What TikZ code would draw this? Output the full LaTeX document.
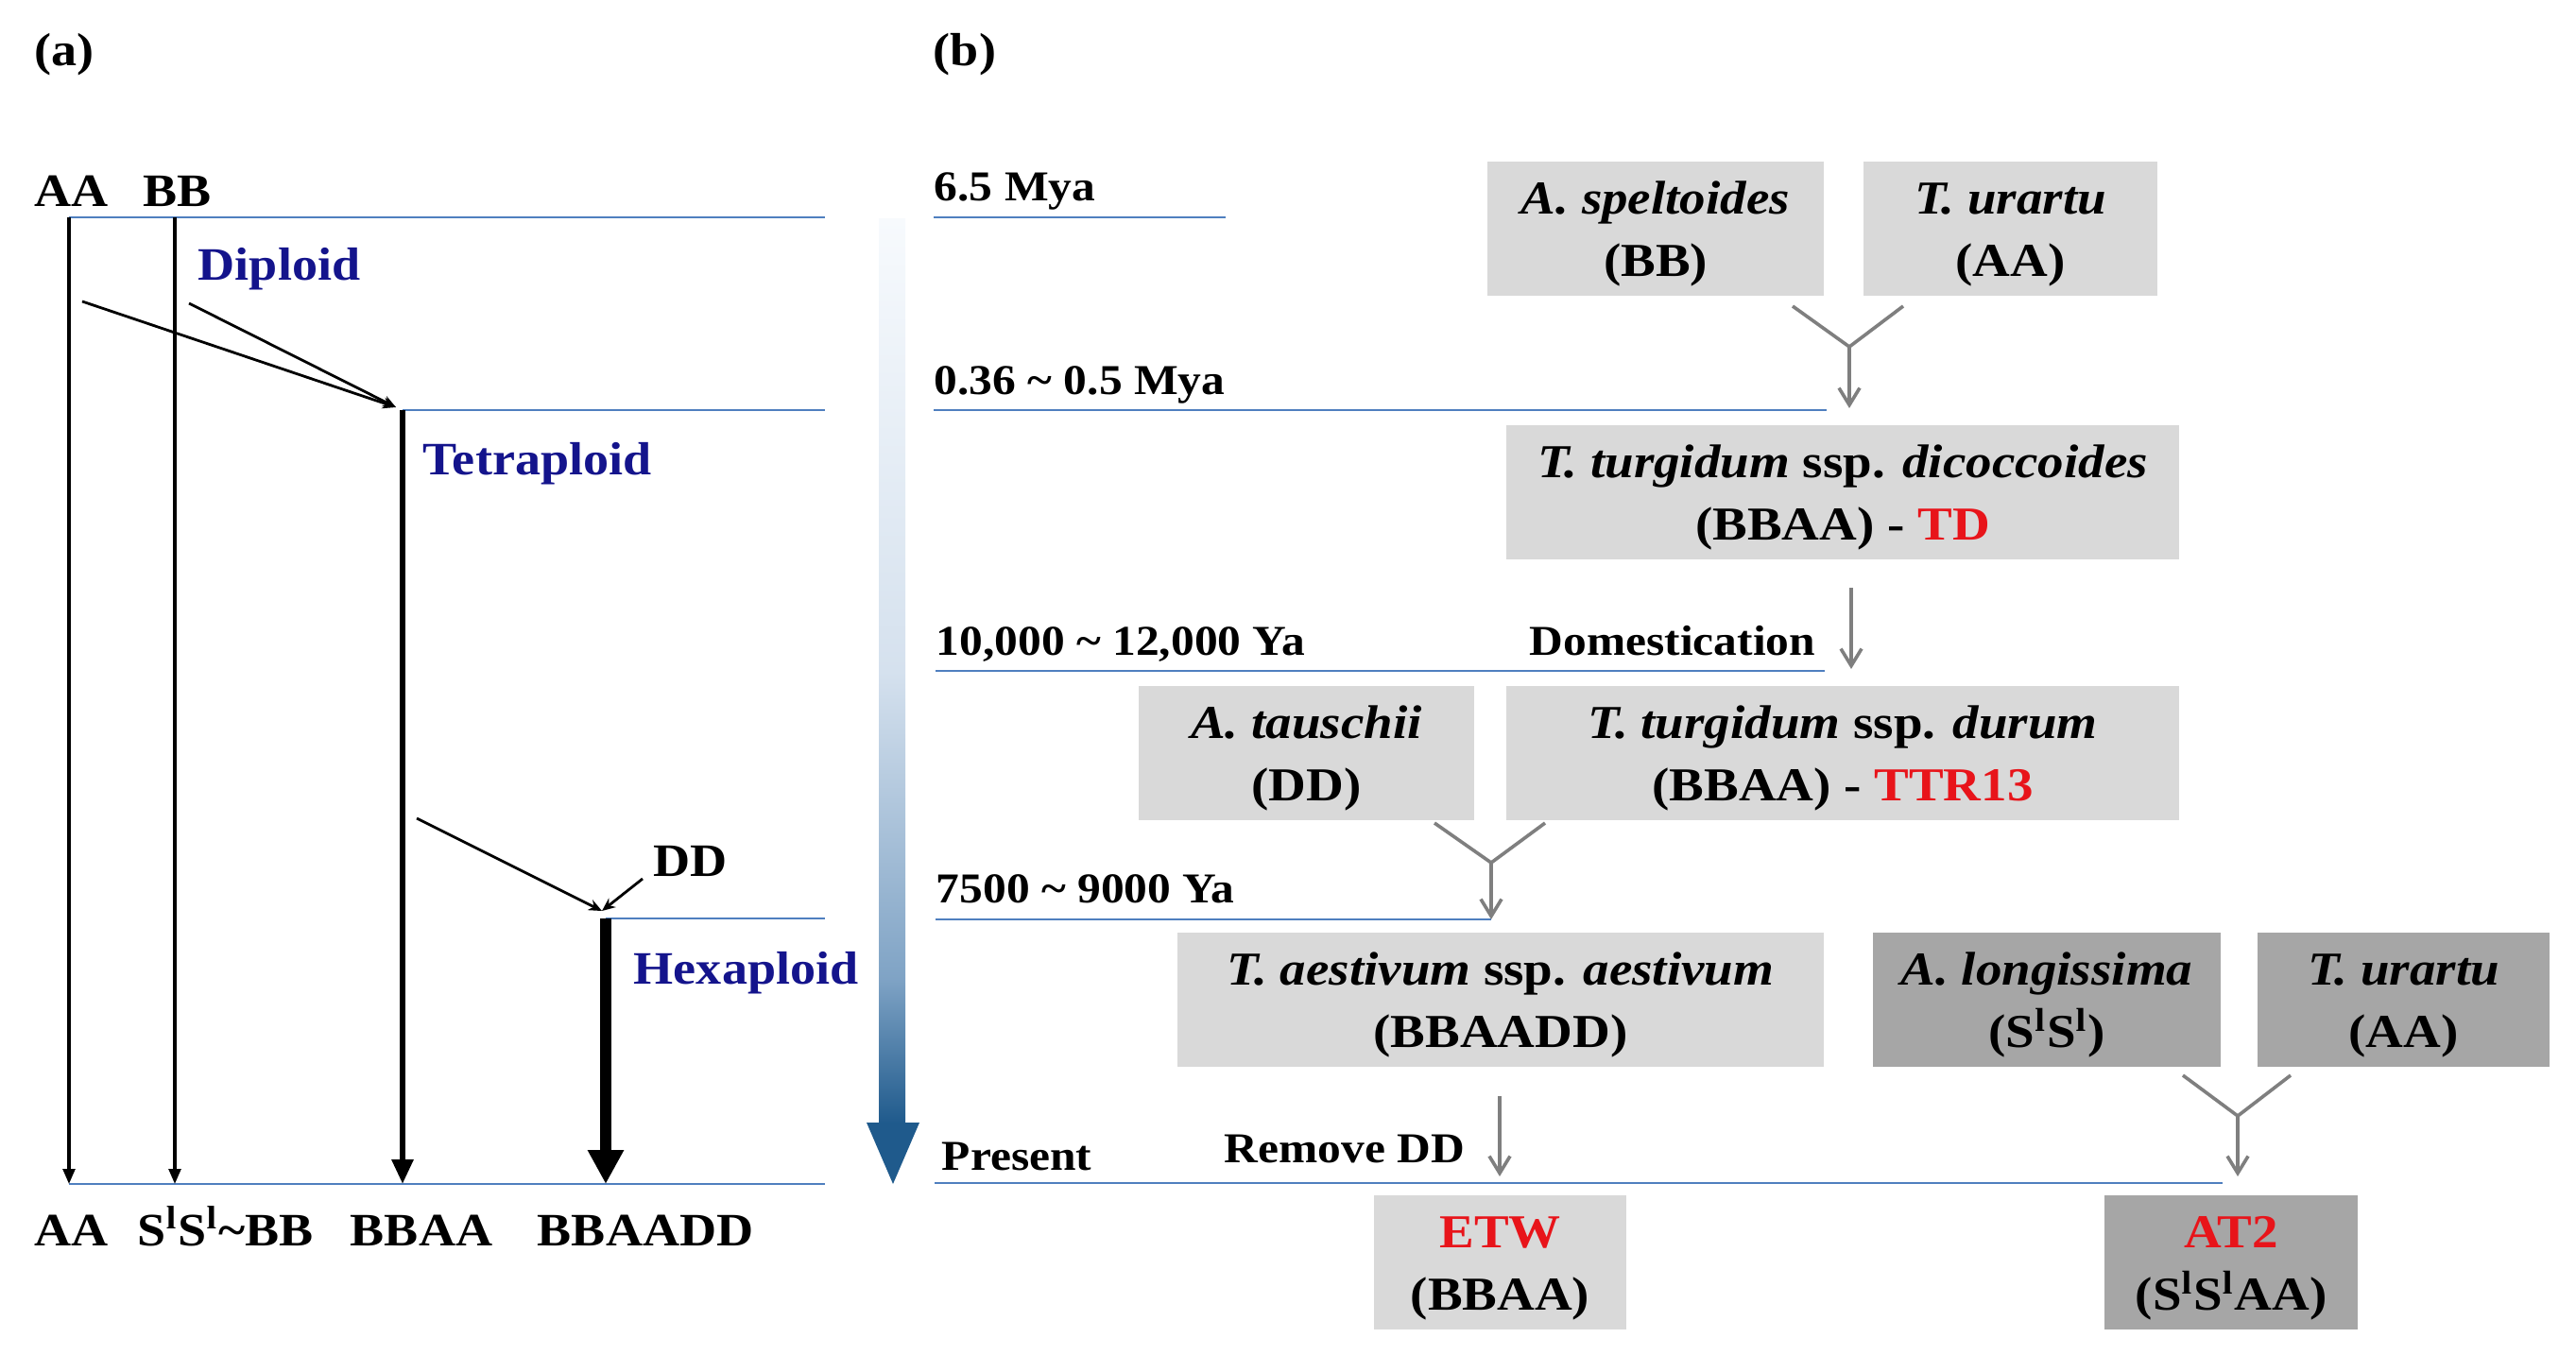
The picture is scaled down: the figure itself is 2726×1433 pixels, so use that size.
\documentclass[tikz,border=0pt]{standalone}
\usepackage{fontspec}
\setmainfont{Liberation Serif}[FakeStretch=1.1]
\usetikzlibrary{arrows.meta}
\definecolor{lgray}{HTML}{D9D9D9}
\definecolor{dgray}{HTML}{A6A6A6}
\definecolor{conn}{HTML}{7F7F7F}
\definecolor{tline}{HTML}{4F7FBF}
\definecolor{mynavy}{HTML}{14148C}
\definecolor{tbot}{HTML}{1F5A8C}
\definecolor{tq}{HTML}{7FA3C5}
\definecolor{tmid}{HTML}{D5E1EE}
\definecolor{ttop}{HTML}{F7FAFD}
\definecolor{myred}{HTML}{E8141A}
\pgfdeclareverticalshading{timeshade}{100bp}{color(0bp)=(tbot); color(25bp)=(tbot); color(33bp)=(tq); color(50bp)=(tmid); color(75bp)=(ttop); color(100bp)=(ttop)}
\newcommand\myafont{\fontsize{12.3}{14}\selectfont\bfseries}
\newcommand\mytfont{\fontsize{11.25}{13}\selectfont\bfseries}
\newcommand\myboxfont{\fontsize{12.5}{16.5}\selectfont\bfseries}
\newcommand\mystrut{\rule{0pt}{11.5pt}}
\begin{document}
\begin{tikzpicture}[x=0.25pt,y=-0.25pt,
  hline/.style={draw=tline, line width=0.7pt},
  alabel/.style={inner sep=0pt, font=\myafont},
  dlabel/.style={alabel, text=mynavy},
  tlabel/.style={inner sep=0pt, font=\mytfont},
  lbox/.style={fill=lgray, inner sep=0pt, align=center, font=\myboxfont, minimum height=35.5pt},
  dbox/.style={lbox, fill=dgray},
  thinarr/.style={line width=0.8pt, -{Triangle[length=4pt,width=3.2pt]}},
  medarr/.style={line width=1.5pt, -{Triangle[length=6.5pt,width=5.5pt]}},
  thickarr/.style={line width=2.8pt, -{Triangle[length=9pt,width=9pt]}},
  diagarr/.style={line width=0.7pt, -{Stealth[length=3.5pt,width=3pt]}},
  connline/.style={draw=conn, line width=0.9pt},
  connarr/.style={connline, -{Straight Barb[length=4.5pt,width=5.5pt]}}
]
\useasboundingbox (0,0) rectangle (2726,1433);

% ---------------- panel (a)
\node[alabel] (pa) at (68,58) {(a)};
\node[alabel, anchor=base west] (topAA) at (36,219) {AA};
\node[alabel, anchor=base west] (topBB) at (151,219) {BB};

\coordinate (aTop) at (73,230);  \coordinate (aBot) at (73,1253);
\coordinate (bTop) at (185,230); \coordinate (bBot) at (185,1253);
\coordinate (tTop) at (426,434); \coordinate (tBot) at (426,1253);
\coordinate (hTop) at (641,972); \coordinate (hBot) at (641,1253);
\coordinate (dipEnd) at (873,230);
\coordinate (tetEnd) at (873,434);
\coordinate (hexEnd) at (873,972);
\coordinate (botEnd) at (873,1253);

\draw[hline] (aTop) -- (dipEnd);
\draw[hline] (tTop) -- (tetEnd);
\draw[hline] (hTop) -- (hexEnd);
\draw[hline] (aBot) -- (botEnd);

\draw[thinarr] (aTop) -- (aBot);
\draw[thinarr] (bTop) -- (bBot);
\draw[medarr] (tTop) -- (tBot);
\draw[thickarr] (hTop) -- (hBot);

\coordinate (dA) at (87,319);
\coordinate (dB) at (200,321);
\coordinate (dT) at (419,431);
\draw[diagarr] (dA) -- (dT);
\draw[diagarr] (dB) -- (dT);

\coordinate (dC) at (441,866);
\coordinate (dH) at (637,964);
\draw[diagarr] (dC) -- (dH);
\node[alabel, anchor=base west] (DD) at (691,927) {DD};
\coordinate (ddS) at (680,930);
\draw[diagarr] (ddS) -- (dH);

\node[dlabel, anchor=base west] (dip) at (209,297) {Diploid};
\node[dlabel, anchor=base west] (tet) at (447,502) {Tetraploid};
\node[dlabel, anchor=base west] (hex) at (670,1041) {Hexaploid};

\node[alabel, anchor=base west] (botAA) at (36,1318) {AA};
\node[alabel, anchor=base west] (botSS) at (145,1318) {S\textsuperscript{l}S\textsuperscript{l}\textasciitilde BB};
\node[alabel, anchor=base west] (botBA) at (370,1318) {BBAA};
\node[alabel, anchor=base west] (botBAD) at (568,1318) {BBAADD};

% ---------------- panel (b)
\node[alabel] (pb) at (1021,58) {(b)};

\shade[shading=timeshade] (930,232) rectangle (958,1189);
\fill[tbot] (917,1188) -- (973,1188) -- (945,1253) -- cycle;

\coordinate (l1s) at (988,230);  \coordinate (l1e) at (1297,230);
\coordinate (l2s) at (988,434);  \coordinate (l2e) at (1933,434);
\coordinate (l3s) at (990,710);  \coordinate (l3e) at (1931,710);
\coordinate (l4s) at (990,973);  \coordinate (l4e) at (1578,973);
\coordinate (l5s) at (989,1252); \coordinate (l5e) at (2352,1252);
\draw[hline] (l1s) -- (l1e);
\draw[hline] (l2s) -- (l2e);
\draw[hline] (l3s) -- (l3e);
\draw[hline] (l4s) -- (l4e);
\draw[hline] (l5s) -- (l5e);

\node[tlabel, anchor=base west] (t1) at (988,213) {6.5 Mya};
\node[tlabel, anchor=base west] (t2) at (988,417) {0.36 \textasciitilde{} 0.5 Mya};
\node[tlabel, anchor=base west] (t3) at (990,693) {10,000 \textasciitilde{} 12,000 Ya};
\node[tlabel, anchor=base east] (dom) at (1922,693) {Domestication};
\node[tlabel, anchor=base west] (t4) at (990,955) {7500 \textasciitilde{} 9000 Ya};
\node[tlabel, anchor=base west] (t5) at (996,1238) {Present};
\node[tlabel, anchor=base east] (rem) at (1551,1230) {Remove DD};

\node[lbox, minimum width=89pt] (spel) at (1752,242) {\mystrut\textit{A. speltoides}\\(BB)};
\node[lbox, minimum width=77.75pt] (ura1) at (2127.5,242) {\mystrut\textit{T. urartu}\\(AA)};
\node[lbox, minimum width=178pt] (dic) at (1950,521) {\mystrut\textit{T. turgidum} ssp. \textit{dicoccoides}\\(BBAA) - \textcolor{myred}{TD}};
\node[lbox, minimum width=88.75pt] (tau) at (1382.5,797) {\mystrut\textit{A. tauschii}\\(DD)};
\node[lbox, minimum width=178pt] (dur) at (1950,797) {\mystrut\textit{T. turgidum} ssp. \textit{durum}\\(BBAA) - \textcolor{myred}{TTR13}};
\node[lbox, minimum width=171pt] (aes) at (1588,1057.5) {\mystrut\textit{T. aestivum} ssp. \textit{aestivum}\\(BBAADD)};
\node[dbox, minimum width=92pt] (lon) at (2166,1058) {\mystrut\textit{A. longissima}\\(S\textsuperscript{l}S\textsuperscript{l})};
\node[dbox, minimum width=77.25pt] (ura2) at (2543.5,1058) {\mystrut\textit{T. urartu}\\(AA)};
\node[lbox, minimum width=66.75pt] (etw) at (1587.5,1336) {\mystrut\textcolor{myred}{ETW}\\(BBAA)};
\node[dbox, minimum width=67pt] (at2) at (2361,1336) {\mystrut\textcolor{myred}{AT2}\\(S\textsuperscript{l}S\textsuperscript{l}AA)};

% connectors
\coordinate (y1a) at (1897,324); \coordinate (y1b) at (2014,324);
\coordinate (y1j) at (1957,367); \coordinate (y1t) at (1957,432);
\draw[connline] (y1a) -- (y1j) -- (y1b);
\draw[connarr] (y1j) -- (y1t);

\coordinate (dm1) at (1959,622); \coordinate (dm2) at (1959,708);
\draw[connarr] (dm1) -- (dm2);

\coordinate (y2a) at (1518,871); \coordinate (y2b) at (1635,871);
\coordinate (y2j) at (1578,913); \coordinate (y2t) at (1578,973);
\draw[connline] (y2a) -- (y2j) -- (y2b);
\draw[connarr] (y2j) -- (y2t);

\coordinate (rm1) at (1587,1160); \coordinate (rm2) at (1587,1245);
\draw[connarr] (rm1) -- (rm2);

\coordinate (y3a) at (2310,1138); \coordinate (y3b) at (2424,1138);
\coordinate (y3j) at (2368,1181); \coordinate (y3t) at (2368,1245);
\draw[connline] (y3a) -- (y3j) -- (y3b);
\draw[connarr] (y3j) -- (y3t);
\end{tikzpicture}
\end{document}
